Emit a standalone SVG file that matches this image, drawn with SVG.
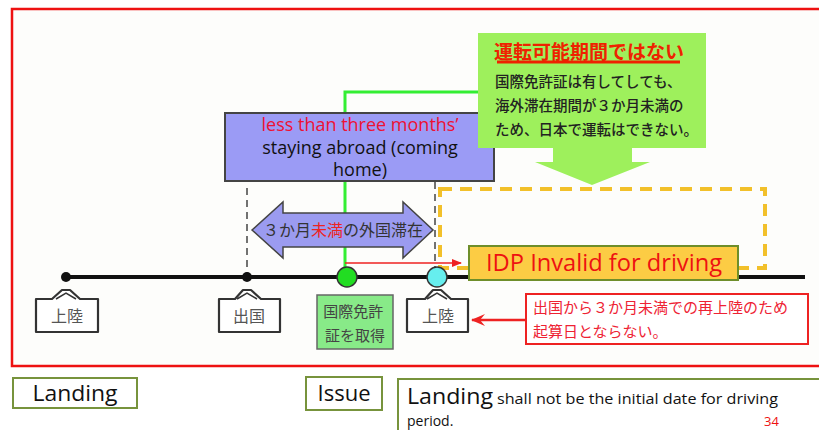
<svg xmlns="http://www.w3.org/2000/svg" width="819" height="430" viewBox="0 0 819 430">
<defs>
<style>
.jp{font-family:"Noto Sans CJK JP","Noto Sans",sans-serif}
.en{font-family:"Open Sans","Liberation Sans",sans-serif}
.tag{fill:#fff;stroke:#333;stroke-width:2.2;stroke-linejoin:round}
.tagt{font-family:"Noto Sans CJK JP",sans-serif;font-size:16px;fill:#555;text-anchor:middle}
.gbox{fill:#fff;stroke:#77933c;stroke-width:2}
</style>
<marker id="ra" markerWidth="10" markerHeight="8" refX="9" refY="4" orient="auto" markerUnits="userSpaceOnUse">
<path d="M0,0 L10,4 L0,8 Z" fill="#ee2222"/>
</marker>
<marker id="ra2" markerWidth="14" markerHeight="12" refX="13" refY="6" orient="auto" markerUnits="userSpaceOnUse">
<path d="M0,0 L14,6 L0,12 L5,6 Z" fill="#ee2222"/>
</marker>
</defs>
<rect width="819" height="430" fill="#ffffff"/>
<rect id="frame" x="12" y="9" width="820" height="357" fill="#fdfdfb" stroke="#ee1111" stroke-width="2.5"/>

<g id="connectors" fill="none">
<path d="M345,267 V92 H480" stroke="#33ee33" stroke-width="3"/>
<line x1="247" y1="188" x2="247" y2="277" stroke="#444" stroke-width="1.5" stroke-dasharray="7,5"/>
<line x1="435" y1="182" x2="435" y2="268" stroke="#444" stroke-width="1.5" stroke-dasharray="7,5"/>
<rect x="440" y="189" width="325" height="79" stroke="#f2c02a" stroke-width="4" stroke-dasharray="12,8"/>
<line x1="66" y1="277" x2="805" y2="277" stroke="#111" stroke-width="4"/>
<line x1="345" y1="263" x2="461" y2="263" stroke="#ee2222" stroke-width="1.5" marker-end="url(#ra)"/>
<line x1="525" y1="320" x2="472" y2="320" stroke="#ee2222" stroke-width="2.5" marker-end="url(#ra2)"/>
</g>

<g id="staying-box">
<rect x="225" y="113" width="269" height="68" fill="#9b9bf5" stroke="#444" stroke-width="2"/>
<text class="en" x="360" y="131" font-size="18" fill="#ee1133" text-anchor="middle">less than three months’</text>
<text class="en" x="360" y="154" font-size="18" fill="#111" text-anchor="middle">staying abroad (coming</text>
<text class="en" x="360" y="176" font-size="18" fill="#111" text-anchor="middle">home)</text>
</g>

<g id="stay-arrow">
<polygon points="252,230 283,202 283,213 403,213 403,202 433,230 403,258 403,247 283,247 283,258" fill="#9b9bf0" stroke="#444" stroke-width="1.5"/>
<text class="jp" x="343" y="236" font-size="16" fill="#333" text-anchor="middle">３か月<tspan fill="#ee2222">未満</tspan>の外国滞在</text>
</g>

<g id="callout">
<polygon points="478,33 706,33 706,148 632,148 632,162 650,162 592,185 535,162 553,162 553,148 478,148" fill="#9ef05c"/>
<text class="jp" x="589" y="59" font-size="19" font-weight="bold" fill="#ee2200" text-anchor="middle">運転可能期間ではない</text>
<line x1="497" y1="62" x2="680" y2="62" stroke="#ee2200" stroke-width="3"/>
<text class="jp" font-size="14.5" font-weight="500" fill="#222">
<tspan x="495" y="87">国際免許証は有してしても、</tspan>
<tspan x="495" y="111">海外滞在期間が３か月未満の</tspan>
<tspan x="495" y="135">ため、日本で運転はできない。</tspan>
</text>
</g>

<g id="points">
<circle cx="66" cy="277" r="5" fill="#111"/>
<circle cx="247" cy="277" r="5" fill="#111"/>
<circle cx="347" cy="277" r="10" fill="#22dd22" stroke="#333" stroke-width="1.5"/>
<circle cx="437" cy="277" r="10" fill="#66eeee" stroke="#333" stroke-width="1.5"/>
</g>

<g id="idp">
<rect x="469" y="246" width="269" height="34" fill="#fccc44" stroke="#6e8e2a" stroke-width="2"/>
<text class="en" x="604" y="271" font-size="23" fill="#ee1111" text-anchor="middle" textLength="236" lengthAdjust="spacingAndGlyphs">IDP Invalid for driving</text>
</g>

<g id="landing1">
<path class="tag" d="M36,299 H52 L62,290 H70 L80,299 H98 V332 H36 Z"/>
<path d="M56,299 L66,293 L76,299" fill="none" stroke="#333" stroke-width="1.5"/>
<text class="tagt" x="67" y="322">上陸</text>
</g>

<g id="departure">
<path class="tag" d="M219,299 H235 L243,290 H251 L261,299 H280 V332 H219 Z"/>
<path d="M237,299 L247,293 L257,299" fill="none" stroke="#333" stroke-width="1.5"/>
<text class="tagt" x="249" y="322">出国</text>
</g>

<g id="issue-tag">
<rect x="317" y="295" width="76" height="54" fill="#88ea88" stroke="#666" stroke-width="1.5"/>
<text class="jp" font-size="15" fill="#444" text-anchor="middle">
<tspan x="355" y="317">国際免許</tspan>
<tspan x="355" y="341">証を取得</tspan>
</text>
</g>

<g id="landing2">
<path class="tag" d="M407,299 H425 L433,290 H441 L451,299 H468 V332 H407 Z"/>
<path d="M427,299 L437,293 L447,299" fill="none" stroke="#333" stroke-width="1.5"/>
<text class="tagt" x="438" y="322">上陸</text>
</g>

<g id="note">
<rect x="526" y="294" width="282" height="50" fill="#fff" stroke="#ee2222" stroke-width="2"/>
<text class="jp" font-size="15" fill="#ee2233">
<tspan x="533" y="313">出国から３か月未満での再上陸のため</tspan>
<tspan x="533" y="337">起算日とならない。</tspan>
</text>
</g>

<g id="label-landing">
<rect class="gbox" x="13" y="378" width="124" height="30"/>
<text class="en" x="75" y="401" font-size="21" fill="#111" text-anchor="middle" textLength="85" lengthAdjust="spacingAndGlyphs">Landing</text>
</g>

<g id="label-issue">
<rect class="gbox" x="306" y="377" width="76" height="33"/>
<text class="en" x="344" y="401" font-size="21" fill="#111" text-anchor="middle" textLength="53" lengthAdjust="spacingAndGlyphs">Issue</text>
</g>

<g id="label-note">
<rect class="gbox" x="398" y="379" width="440" height="70"/>
<text class="en" x="407" y="404" font-size="21" fill="#111" textLength="86" lengthAdjust="spacingAndGlyphs">Landing</text>
<text class="en" x="497" y="404" font-size="15" fill="#111" textLength="281" lengthAdjust="spacingAndGlyphs">shall not be the initial date for driving</text>
<text class="en" x="407" y="426" font-size="14" fill="#111">period.</text>
<text class="en" x="764" y="426" font-size="13" fill="#ee1111">34</text>
</g>
</svg>
